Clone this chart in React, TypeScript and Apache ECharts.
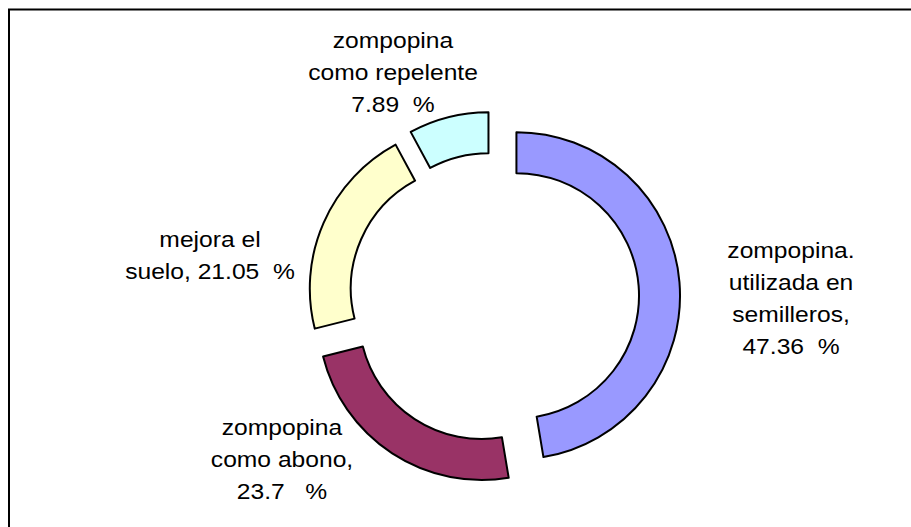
import React, { useEffect, useRef } from "react";
import * as echarts from "echarts";

const categories = [
  "zompopina.\nutilizada en\nsemilleros,",
  "zompopina\ncomo abono,",
  "mejora el\nsuelo,",
  "zompopina\ncomo repelente",
];
const values = [47.36, 23.7, 21.05, 7.89];
const valueTexts = ["47.36  %", "23.7   %", "21.05  %", "7.89  %"];
const colors = ["#9999FF", "#993366", "#FFFFCC", "#CCFFFF"];

// label anchor points (centre of each label block)
const labelPos: [number, number][] = [
  [791, 298],
  [282, 459],
  [210, 255],
  [393, 72],
];

function labelText(i: number) {
  const c = categories[i];
  if (i === 2) {
    const parts = c.split("\n");
    return `${parts[0]}\n${parts[1]} ${valueTexts[i]}`;
  }
  return `${c}\n${valueTexts[i]}`;
}

export default function App() {
  const ref = useRef<HTMLDivElement>(null);
  useEffect(() => {
    if (!ref.current) return;
    const chart = echarts.init(ref.current, null, { renderer: "svg" });
    const data = categories.map((c, i) => ({
      name: c,
      value: values[i],
      selected: true,
      itemStyle: { color: colors[i] },
    }));
    const labels = categories.map((_, i) => ({
      type: "text",
      x: labelPos[i][0],
      y: labelPos[i][1],
      scaleX: 1.095,
      silent: true,
      style: {
        text: labelText(i),
        fill: "#000",
        fontFamily: "Liberation Sans, Arial, sans-serif",
        fontSize: 22.5,
        lineHeight: 32,
        align: "center",
        verticalAlign: "middle",
      },
    }));
    chart.setOption({
      animation: false,
      backgroundColor: "#fff",
      graphic: [
        {
          type: "rect",
          shape: { x: 9, y: 9.5, width: 1000, height: 600 },
          style: { fill: "none", stroke: "#000", lineWidth: 2 },
          silent: true,
        },
        ...labels,
      ],
      series: [
        {
          type: "pie",
          center: [494, 297.6],
          radius: [122.6, 163.6],
          startAngle: 90,
          clockwise: true,
          selectedMode: "multiple",
          selectedOffset: 22.5,
          avoidLabelOverlap: false,
          itemStyle: { borderColor: "#000", borderWidth: 2 },
          select: { itemStyle: { borderColor: "#000", borderWidth: 2 } },
          emphasis: { disabled: true },
          label: { show: false },
          labelLine: { show: false },
          data,
        },
      ],
    });
    return () => chart.dispose();
  }, []);
  return (
    <div
      ref={ref}
      style={{ position: "absolute", left: 0, top: 0, width: 911, height: 527 }}
    />
  );
}
